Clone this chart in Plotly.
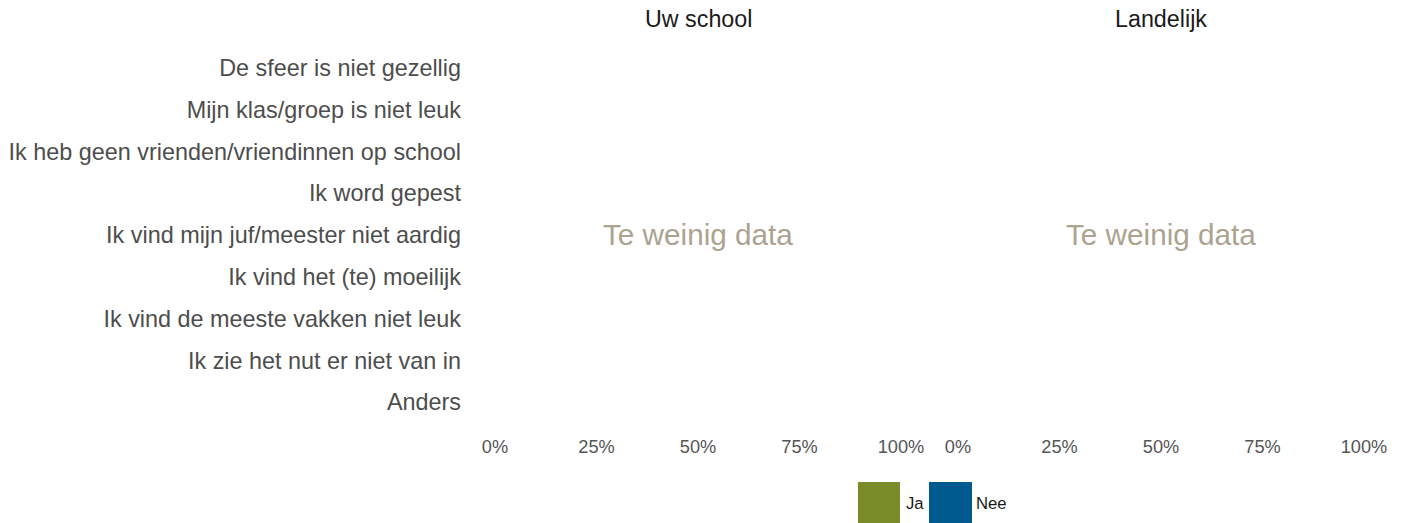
import plotly.graph_objects as go

categories = [
    "De sfeer is niet gezellig",
    "Mijn klas/groep is niet leuk",
    "Ik heb geen vrienden/vriendinnen op school",
    "Ik word gepest",
    "Ik vind mijn juf/meester niet aardig",
    "Ik vind het (te) moeilijk",
    "Ik vind de meeste vakken niet leuk",
    "Ik zie het nut er niet van in",
    "Anders",
]
panels = ["Uw school", "Landelijk"]
series_names = ["Ja", "Nee"]
series_colors = ["#7a8c2a", "#005a8f"]
# Too little data: no values available for either panel
values_school = {"Ja": [], "Nee": []}
values_landelijk = {"Ja": [], "Nee": []}
no_data_text = "Te weinig data"
tick_vals = [0, 25, 50, 75, 100]
tick_text = ["0%", "25%", "50%", "75%", "100%"]

FONT = "Liberation Sans, Arial"
OFF = 0  # body margin removed via post_script
W, H = 1405 - OFF, 523 - OFF
ML, MR, MT, MB = 495 - OFF, 41, 47 - OFF, 100

fig = go.Figure()

for panel_vals, xa, ya in [(values_school, "x", "y"), (values_landelijk, "x2", "y2")]:
    for name, col in zip(series_names, series_colors):
        fig.add_trace(go.Bar(
            x=panel_vals[name], y=categories[:len(panel_vals[name])], orientation="h",
            name=name, marker_color=col, xaxis=xa, yaxis=ya, showlegend=False,
        ))

d1 = (901 - 495) / (1364 - 495)
d2 = (958 - 495) / (1364 - 495)

common_x = dict(range=[0, 100], tickvals=tick_vals, ticktext=tick_text, showgrid=False,
                zeroline=False, showline=False, ticks="", ticklabelstandoff=11,
                tickfont=dict(family=FONT, size=18.2, color="#555555"))
fig.update_layout(
    xaxis=dict(domain=[0, d1], anchor="y", **common_x),
    xaxis2=dict(domain=[d2, 1], anchor="y2", **common_x),
    yaxis=dict(range=[len(categories) - 0.5, -0.5], type="category", categoryorder="array",
               categoryarray=categories, tickvals=categories, ticktext=categories,
               showgrid=False, zeroline=False, showline=False, ticks="",
               ticklabelstandoff=33,
               tickfont=dict(family=FONT, size=23.4, color="#4d4d4d")),
    yaxis2=dict(range=[len(categories) - 0.5, -0.5], type="category", categoryorder="array",
                categoryarray=categories, anchor="x2", showticklabels=False,
                showgrid=False, zeroline=False, showline=False, matches="y"),
    width=W, height=H,
    margin=dict(l=ML, r=MR, t=MT, b=MB, autoexpand=False),
    paper_bgcolor="white", plot_bgcolor="white",
    showlegend=False,
)

plot_w = W - ML - MR
plot_h = H - MT - MB
def px2x(px):
    return (px - OFF - ML) / plot_w
def py2y(py):
    return (H - MB - (py - OFF)) / plot_h

centers = [d1 / 2, (d2 + 1) / 2]
for c, p in zip(centers, panels):
    fig.add_annotation(text=p, x=c, y=py2y(19), xref="paper", yref="paper",
                       xanchor="center", yanchor="middle", showarrow=False,
                       font=dict(family=FONT, size=23.3, color="#1a1a1a"))
    fig.add_annotation(text=no_data_text, x=c, y=py2y(234), xref="paper", yref="paper",
                       xanchor="center", yanchor="middle", showarrow=False,
                       font=dict(family=FONT, size=29.7, color="#aba390"))

# legend drawn manually (big squares)
legend_boxes = [(858, 900), (929, 972)]
legend_text_x = [906, 976]
for (x0, x1), tx, name, col in zip(legend_boxes, legend_text_x, series_names, series_colors):
    fig.add_shape(type="rect", xref="paper", yref="paper",
                  x0=px2x(x0), x1=px2x(x1), y0=py2y(523), y1=py2y(482),
                  fillcolor=col, line=dict(width=0))
    fig.add_annotation(text=name, x=px2x(tx - 2), y=py2y(503), xref="paper", yref="paper",
                       xanchor="left", yanchor="middle", showarrow=False,
                       font=dict(family=FONT, size=16.7, color="#1a1a1a"))

fig.write_html("out.html", config={"displayModeBar": False},
               post_script="document.body.style.margin='0';document.body.style.overflow='hidden';")
